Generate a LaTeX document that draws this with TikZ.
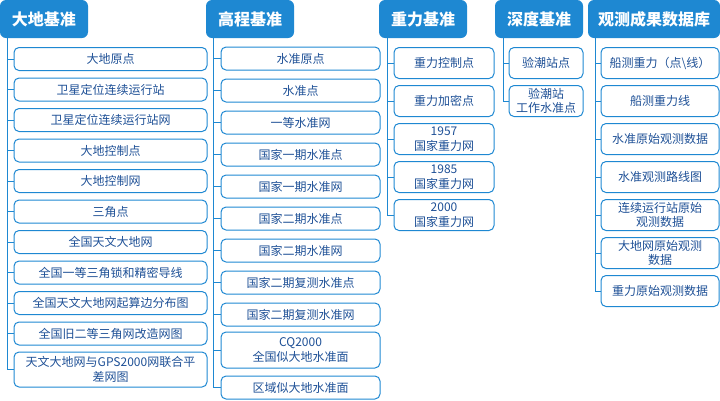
\documentclass[tikz,border=0pt]{standalone}
\usepackage{fontspec}
\setmainfont{Noto Sans CJK SC}
\definecolor{hblue}{RGB}{30,136,210}
\definecolor{tblue}{RGB}{30,80,150}
\tikzset{
  hdr/.style={fill=hblue, rounded corners=6pt, text=white, font=\fontsize{16}{18}\selectfont\bfseries, minimum height=38pt, inner sep=0pt, anchor=center},
  leaf/.style={draw=hblue, line width=1pt, rounded corners=5pt, text=tblue, font=\fontsize{12}{14.5}\selectfont, align=center, inner sep=0pt, anchor=center},
  conn/.style={draw=hblue, line width=1pt}
}
\begin{document}
\begin{tikzpicture}[x=1pt,y=-1pt]
\useasboundingbox (0,0) rectangle (720,400);
% headers
\node[hdr, minimum width=88pt] (hA) at (44,19) {大地基准};
\node[hdr, minimum width=88pt] (hB) at (250,19) {高程基准};
\node[hdr, minimum width=88pt] (hC) at (423,19) {重力基准};
\node[hdr, minimum width=88pt] (hD) at (539,19) {深度基准};
\node[hdr, minimum width=132pt] (hE) at (654,19) {观测成果数据库};
% column A
\begin{scope}[every node/.style={leaf, minimum width=193pt, minimum height=23pt}]
\node (a1) at (110.5,59) {大地原点};
\node (a2) at (110.5,89.5) {卫星定位连续运行站};
\node (a3) at (110.5,120) {卫星定位连续运行站网};
\node (a4) at (110.5,150.5) {大地控制点};
\node (a5) at (110.5,181) {大地控制网};
\node (a6) at (110.5,211.5) {三角点};
\node (a7) at (110.5,242) {全国天文大地网};
\node (a8) at (110.5,272.5) {全国一等三角锁和精密导线};
\node (a9) at (110.5,303) {全国天文大地网起算边分布图};
\node (a10) at (110.5,333.5) {全国旧二等三角网改造网图};
\node[minimum height=35pt] (a11) at (110.5,369.5) {天文大地网与GPS2000网联合平\\差网图};
\end{scope}
% column B
\begin{scope}[every node/.style={leaf, minimum width=159pt, minimum height=23pt}]
\node (b1) at (300.5,58.5) {水准原点};
\node (b2) at (300.5,90.5) {水准点};
\node (b3) at (300.5,122.5) {一等水准网};
\node (b4) at (300.5,154.5) {国家一期水准点};
\node (b5) at (300.5,186.5) {国家一期水准网};
\node (b6) at (300.5,218.5) {国家二期水准点};
\node (b7) at (300.5,250.5) {国家二期水准网};
\node (b8) at (300.5,282.5) {国家二期复测水准点};
\node (b9) at (300.5,314.5) {国家二期复测水准网};
\node[minimum height=36pt] (b10) at (300.5,350) {CQ2000\\全国似大地水准面};
\node (b11) at (300.5,387.5) {区域似大地水准面};
\end{scope}
% column C
\begin{scope}[every node/.style={leaf, minimum width=100pt, minimum height=31pt}]
\node (c1) at (444,63) {重力控制点};
\node (c2) at (444,101) {重力加密点};
\node (c3) at (444,139) {1957\\国家重力网};
\node (c4) at (444,177) {1985\\国家重力网};
\node (c5) at (444,215) {2000\\国家重力网};
\end{scope}
% column D
\begin{scope}[every node/.style={leaf, minimum width=74pt, minimum height=31pt}]
\node (d1) at (546,63) {验潮站点};
\node (d2) at (546,101) {验潮站\\工作水准点};
\end{scope}
% column E
\begin{scope}[every node/.style={leaf, minimum width=118pt, minimum height=31pt}]
\node (e1) at (660,63) {船测重力（点\textbackslash 线）};
\node (e2) at (660,101) {船测重力线};
\node (e3) at (660,139) {水准原始观测数据};
\node (e4) at (660,177) {水准观测路线图};
\node (e5) at (660,215) {连续运行站原始\\观测数据};
\node (e6) at (660,253) {大地网原始观测\\数据};
\node (e7) at (660,291) {重力原始观测数据};
\end{scope}
% trunks
\coordinate (tA) at (7,38);
\coordinate (tB) at (213,38);
\coordinate (tC) at (387,38);
\coordinate (tD) at (503,38);
\coordinate (tE) at (595,38);
\path[conn] (tA) |- (a11.west);
\path[conn] (tB) |- (b11.west);
\path[conn] (tC) |- (c5.west);
\path[conn] (tD) |- (d2.west);
\path[conn] (tE) |- (e7.west);
\foreach \n in {a1,a2,a3,a4,a5,a6,a7,a8,a9,a10} \path[conn] (\n.west) -- (\n.west -| tA);
\foreach \n in {b1,b2,b3,b4,b5,b6,b7,b8,b9,b10} \path[conn] (\n.west) -- (\n.west -| tB);
\foreach \n in {c1,c2,c3,c4} \path[conn] (\n.west) -- (\n.west -| tC);
\foreach \n in {d1} \path[conn] (\n.west) -- (\n.west -| tD);
\foreach \n in {e1,e2,e3,e4,e5,e6} \path[conn] (\n.west) -- (\n.west -| tE);
\end{tikzpicture}
\end{document}
